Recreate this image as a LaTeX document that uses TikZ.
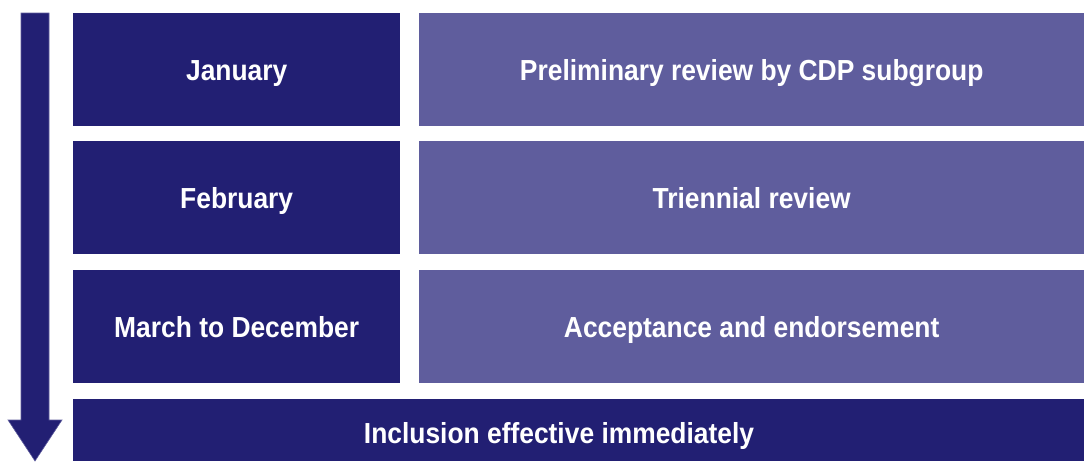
\documentclass[tikz,border=0pt]{standalone}
\usepackage{fontspec}
\setmainfont{Liberation Sans}[FakeStretch=0.91]
\definecolor{navy}{HTML}{221F73}
\definecolor{lilac}{HTML}{5F5D9D}
\begin{document}
\begin{tikzpicture}[x=1pt,y=-1pt,
    month/.style={rectangle,fill=navy,anchor=north west,minimum width=327pt,minimum height=113pt,inner sep=0pt},
    stage/.style={rectangle,fill=lilac,anchor=north west,minimum width=665pt,minimum height=113pt,inner sep=0pt},
    every node/.append style={text=white,text height=21pt,text depth=0pt,font=\fontsize{29}{32}\selectfont\bfseries}]
        \useasboundingbox (0,0) rectangle (1084,461);
        %% Time arrow
        \fill[navy,draw=lilac,line width=0.6pt] (21,13) -- (49,13) -- (49,420) -- (62,420)
            -- (35,461) -- (8,420) -- (21,420) -- cycle;
        %% Months
        \node[month] (jan) at (73,13) {January};
        \node[month] (feb) at (73,141) {February};
        \node[month] (mar) at (73,270) {March to December};
        %% Stages
        \node[stage] (prelim) at (419,13) {Preliminary review by CDP subgroup};
        \node[stage] (triennial) at (419,141) {Triennial review};
        \node[stage] (accept) at (419,270) {Acceptance and endorsement};
        %% Outcome
        \fill[navy] (73,399) rectangle (1084,461);
        \node (inclusion) at (559,433) {Inclusion effective immediately};
    \end{tikzpicture}
\end{document}
